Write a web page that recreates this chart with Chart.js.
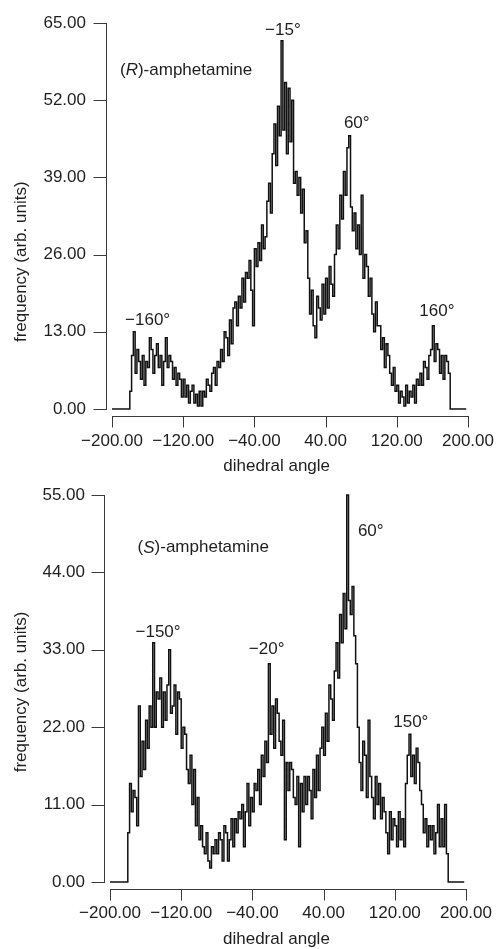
<!DOCTYPE html>
<html>
<head>
<meta charset="utf-8">
<script src="https://cdn.jsdelivr.net/npm/chart.js@4.4.1/dist/chart.umd.min.js"></script>
<style>
  body { margin: 0; background: #fff; }
  .wrap { position: relative; width: 496px; height: 949px; }
  canvas { position: absolute; left: 0; }
</style>
</head>
<body>
<div class="wrap">
  <canvas id="chart-r" width="496" height="474" style="top:0"></canvas>
  <canvas id="chart-s" width="496" height="475" style="top:474px"></canvas>
</div>
<script>
/* =========================================
   DATA (2-degree bins)
   ========================================= */
const BIN_START = -180;
const BIN_WIDTH = 2;
const EDGE_LEFT = -200;   // flat zero before the first bin
const EDGE_RIGHT = 198;   // flat zero after the last bin

// (R)-amphetamine, bins -180 .. 178
const R_FREQ = [
    3, 9, 13, 6, 10, 8, 5, 9, 4, 8,           // -180
    7, 12, 10, 6, 9, 11, 7, 9, 4, 8,          // -160
    12, 7, 9, 8, 5, 7, 4, 6, 5, 2,            // -140
    5, 2, 4, 1, 3, 4, 1, 2.5, 0.5, 3,         // -120
    0.5, 3, 2, 5, 4, 3, 6, 7, 4, 8,           // -100
    7, 10, 8, 13, 12, 9, 15, 11, 17, 18,      // -80
    14, 19, 17, 22, 18, 23, 22, 25, 20, 14,   // -60
    27, 24, 28, 25, 31, 27, 29, 35, 38, 33,   // -40
    43, 48, 41, 51, 46, 62, 47, 55, 43, 54,   // -20
    45, 52, 38, 40, 36, 39, 33, 37, 28, 30,   // 0
    22, 16, 20, 14, 12, 19, 17, 15, 21, 16,   // 20
    22, 17, 24, 21, 19, 26, 31, 27, 36, 32,   // 40
    40, 36, 44, 46, 34, 30, 33, 27, 31, 26,   // 60
    36, 22, 26, 24, 19, 22, 16, 13, 18, 14,   // 80
    14, 10, 12, 7, 11, 9, 6, 4, 7, 3,         // 100
    4, 1, 3, 2, 0.5, 4, 1, 3, 2, 4,           // 120
    1, 5, 4, 6, 4, 8, 7, 5, 9, 10,            // 140
    14, 8, 11, 10, 6, 9, 5, 9, 8, 6           // 160
];

// (S)-amphetamine, bins -180 .. 178
const S_FREQ = [
    7, 14, 10, 13, 12, 8, 25, 15, 20, 16,     // -180
    23, 19, 25, 22, 34, 22, 27, 26, 29, 22,   // -160
    27, 23, 28, 33, 24, 25, 28, 21, 27, 26,   // -140
    19, 22, 21, 16, 14, 18, 11, 16, 8, 12,    // -120
    6, 8, 5, 4, 7, 3, 2, 5, 4, 6,             // -100
    4, 7, 6, 3, 8, 7, 3, 6, 9, 5,             // -80
    9, 7, 10, 9, 11, 5, 10, 14, 8, 12,        // -60
    10, 14, 13, 16, 11, 18, 15, 20, 17, 31,   // -40
    21, 25, 19, 26, 24, 20, 18, 23, 6, 17,    // -20
    13, 17, 16, 12, 11, 15, 5, 14, 10, 15,    // 0
    11, 15, 13, 9, 16, 12, 18, 13, 19, 22,    // 20
    18, 24, 20, 28, 26, 23, 30, 34, 29, 38,   // 40
    34, 41, 36, 55, 40, 38, 42, 35, 31, 22,   // 60
    17, 13, 20, 18, 12, 23, 15, 12, 9, 15,    // 80
    11, 14, 9, 12, 10, 7, 4, 10, 6, 9,        // 100
    8, 5, 10, 6, 9, 5, 14, 18, 21, 15,        // 120
    18, 14, 19, 17, 13, 11, 7, 9, 5, 8,       // 140
    6, 8, 4, 7, 11, 5, 9, 5, 11, 4            // 160
];

const X_RANGE = [-200, 200];
const X_STEP = 80;
const R_Y_MAX = 65, R_Y_STEP = 13;
const S_Y_MAX = 55, S_Y_STEP = 11;

// peak labels: [text, angle, frequency]
const R_PEAKS = [['\u221215\u00b0', -8, 63.8], ['60\u00b0', 75, 48.1], ['\u2212160\u00b0', -160, 15.0], ['160\u00b0', 165, 16.5]];
const S_PEAKS = [['\u2212150\u00b0', -146, 35.5], ['\u221220\u00b0', -24, 33.0], ['60\u00b0', 93, 49.9], ['150\u00b0', 138, 22.7]];

/* =========================================
   STYLE
   ========================================= */
const FONT = "'Liberation Sans', Arial, sans-serif";
const FONT_SIZE = 17;
const INK = '#1e1e1e';
const LINE_COLOR = '#111111';
const AXIS_COLOR = '#3a3a3a';

Chart.defaults.font.family = FONT;
Chart.defaults.font.size = FONT_SIZE;
Chart.defaults.color = INK;

function toPoints(freq) {
    const pts = [{ x: EDGE_LEFT, y: 0 }];
    freq.forEach((v, i) => pts.push({ x: BIN_START + i * BIN_WIDTH, y: v }));
    pts.push({ x: BIN_START + freq.length * BIN_WIDTH, y: 0 });
    pts.push({ x: EDGE_RIGHT, y: 0 });
    return pts;
}

// Igor-style detached axes: y axis pulled left, x axis pulled down
const offsetAxes = {
    id: 'offsetAxes',
    afterDraw(chart) {
        const { ctx, chartArea: a, scales: { x, y } } = chart;
        const o = chart.options.plugins.offsetAxes;
        ctx.save();
        ctx.strokeStyle = AXIS_COLOR;
        ctx.lineWidth = 1;
        ctx.beginPath();
        const yx = Math.round(a.left - o.gapY) + 0.5;
        ctx.moveTo(yx, Math.round(y.getPixelForValue(y.max)));
        ctx.lineTo(yx, Math.round(y.getPixelForValue(0)) + 1);
        y.ticks.forEach(t => {
            const py = Math.round(y.getPixelForValue(t.value)) + 0.5;
            ctx.moveTo(yx - 13, py);
            ctx.lineTo(yx, py);
        });
        const xy = Math.round(a.bottom + o.gapX) + 0.5;
        ctx.moveTo(Math.round(x.getPixelForValue(x.min)), xy);
        ctx.lineTo(Math.round(x.getPixelForValue(x.max)) + 1, xy);
        x.ticks.forEach(t => {
            const px = Math.round(x.getPixelForValue(t.value)) + 0.5;
            ctx.moveTo(px, xy);
            ctx.lineTo(px, xy + 11);
        });
        ctx.stroke();

        // axis titles
        ctx.fillStyle = INK;
        ctx.font = `${FONT_SIZE}px ${FONT}`;
        ctx.textAlign = 'center';
        ctx.textBaseline = 'middle';
        ctx.fillText('dihedral angle', x.getPixelForValue(o.xTitleAt), a.bottom + 57);
        ctx.save();
        ctx.translate(21, y.getPixelForValue(o.yTitleAt));
        ctx.rotate(-Math.PI / 2);
        ctx.fillText('frequency (arb. units)', 0, 0);
        ctx.restore();

        // peak labels
        o.peaks.forEach(([txt, ax, fy]) => {
            ctx.fillText(txt, x.getPixelForValue(ax), y.getPixelForValue(fy));
        });

        // compound name with italic stereo descriptor
        ctx.textAlign = 'left';
        let cx = x.getPixelForValue(o.name[1]);
        const cy = y.getPixelForValue(o.name[2]);
        [['(', false], [o.name[0], true], [')-amphetamine', false]].forEach(([s, it]) => {
            ctx.font = `${it ? 'italic ' : ''}${FONT_SIZE}px ${FONT}`;
            ctx.fillText(s, cx, cy);
            cx += ctx.measureText(s).width;
        });
        ctx.restore();
    }
};

function makeChart(id, freq, yMax, yStep, geo, extra) {
    return new Chart(document.getElementById(id), {
        type: 'line',
        data: {
            datasets: [{
                data: toPoints(freq),
                borderColor: LINE_COLOR,
                borderWidth: 1.5,
                pointRadius: 0,
                stepped: 'before',
                fill: false,
                clip: false
            }]
        },
        options: {
            responsive: false,
            animation: false,
            events: [],
            layout: { padding: { top: geo.top, right: geo.right, left: 0, bottom: 0 } },
            plugins: {
                legend: { display: false },
                tooltip: { enabled: false },
                offsetAxes: extra
            },
            scales: {
                x: {
                    type: 'linear',
                    min: X_RANGE[0],
                    max: X_RANGE[1],
                    grid: { display: false, drawTicks: false },
                    border: { display: false },
                    afterFit: s => {
                        s.height = geo.xHeight;
                        s.paddingLeft = 0;
                        s.paddingRight = 0;
                    },
                    ticks: {
                        stepSize: X_STEP,
                        autoSkip: false,
                        maxRotation: 0,
                        padding: geo.xPad,
                        callback: v => v.toFixed(2).replace('-', '\u2212')
                    }
                },
                y: {
                    min: 0,
                    max: yMax,
                    grid: { display: false, drawTicks: false },
                    border: { display: false },
                    afterFit: s => {
                        s.width = geo.yWidth;
                        s.paddingTop = 0;
                        s.paddingBottom = 0;
                    },
                    ticks: {
                        stepSize: yStep,
                        padding: geo.yPad,
                        callback: v => v.toFixed(2)
                    }
                }
            }
        },
        plugins: [offsetAxes]
    });
}

makeChart('chart-r', R_FREQ, R_Y_MAX, R_Y_STEP,
    { top: 23, right: 28, xHeight: 65, yWidth: 112, xPad: 22, yPad: 26 },
    { gapY: 6, gapX: 6.5, xTitleAt: -15, yTitleAt: 24.8, peaks: R_PEAKS, name: ['R', -191, 57] });

makeChart('chart-s', S_FREQ, S_Y_MAX, S_Y_STEP,
    { top: 21, right: 30, xHeight: 67, yWidth: 110, xPad: 21, yPad: 25 },
    { gapY: 6, gapX: 6.5, xTitleAt: -13, yTitleAt: 27, peaks: S_PEAKS, name: ['S', -169, 47.5] });
</script>
</body>
</html>
